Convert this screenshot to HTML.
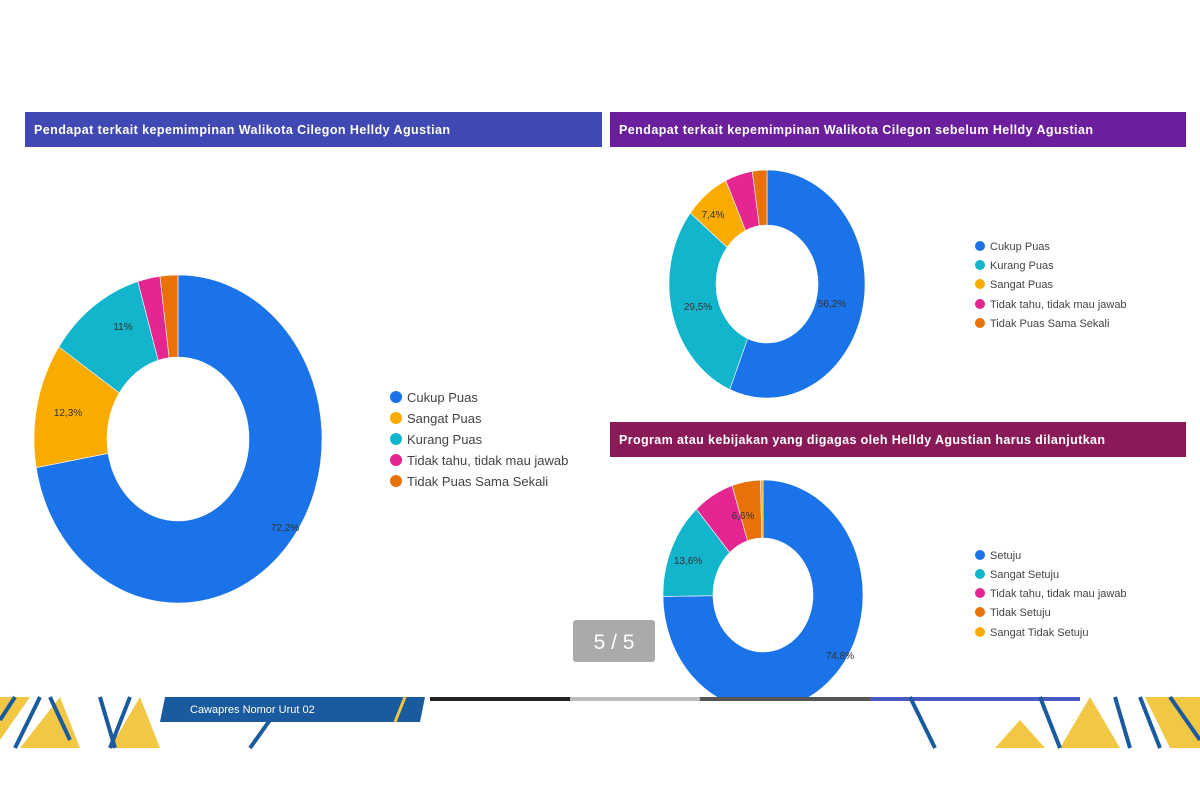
<!DOCTYPE html>
<html><head><meta charset="utf-8"><style>
html,body{margin:0;padding:0;background:#fff;width:1200px;height:800px;overflow:hidden}
svg{display:block}
text{font-family:"Liberation Sans",sans-serif}
</style></head><body>
<svg id="s" width="1200" height="800" viewBox="0 0 1200 800">
<defs><clipPath id="cl"><rect x="0" y="0" width="1200" height="697"/></clipPath></defs>
<rect width="1200" height="800" fill="#fff"/>
<rect x="25" y="112" width="577" height="35" fill="#4049b3"/>
<text x="34" y="134" font-size="12.5" font-weight="bold" fill="#fff" textLength="416">Pendapat terkait kepemimpinan Walikota Cilegon Helldy Agustian</text>
<rect x="610" y="112" width="576" height="35" fill="#6c1f9c"/>
<text x="619" y="134" font-size="12.5" font-weight="bold" fill="#fff" textLength="474">Pendapat terkait kepemimpinan Walikota Cilegon sebelum Helldy Agustian</text>
<rect x="610" y="422" width="576" height="35" fill="#8a1a57"/>
<text x="619" y="444" font-size="12.5" font-weight="bold" fill="#fff" textLength="486">Program atau kebijakan yang digagas oleh Helldy Agustian harus dilanjutkan</text>
<g id="c1"></g><g id="c2"></g><g id="c3" clip-path="url(#cl)"></g>
<g font-size="13" fill="#444">
<circle cx="396" cy="397" r="6" fill="#1a73e8"/><text x="407" y="402">Cukup Puas</text>
<circle cx="396" cy="418" r="6" fill="#f9ab00"/><text x="407" y="423">Sangat Puas</text>
<circle cx="396" cy="439" r="6" fill="#12b5cb"/><text x="407" y="444">Kurang Puas</text>
<circle cx="396" cy="460" r="6" fill="#e52592"/><text x="407" y="465">Tidak tahu, tidak mau jawab</text>
<circle cx="396" cy="481" r="6" fill="#e8710a"/><text x="407" y="486">Tidak Puas Sama Sekali</text>
</g>
<g font-size="11" fill="#444">
<circle cx="980" cy="246" r="5" fill="#1a73e8"/><text x="990" y="250">Cukup Puas</text>
<circle cx="980" cy="265" r="5" fill="#12b5cb"/><text x="990" y="269">Kurang Puas</text>
<circle cx="980" cy="284" r="5" fill="#f9ab00"/><text x="990" y="288">Sangat Puas</text>
<circle cx="980" cy="304" r="5" fill="#e52592"/><text x="990" y="308">Tidak tahu, tidak mau jawab</text>
<circle cx="980" cy="323" r="5" fill="#e8710a"/><text x="990" y="327">Tidak Puas Sama Sekali</text>
<circle cx="980" cy="555" r="5" fill="#1a73e8"/><text x="990" y="559">Setuju</text>
<circle cx="980" cy="574" r="5" fill="#12b5cb"/><text x="990" y="578">Sangat Setuju</text>
<circle cx="980" cy="593" r="5" fill="#e52592"/><text x="990" y="597">Tidak tahu, tidak mau jawab</text>
<circle cx="980" cy="612" r="5" fill="#e8710a"/><text x="990" y="616">Tidak Setuju</text>
<circle cx="980" cy="632" r="5" fill="#f9ab00"/><text x="990" y="636">Sangat Tidak Setuju</text>
</g>
<g font-size="10" fill="#333" text-anchor="middle">
<text x="285" y="531">72,2%</text><text x="68" y="416">12,3%</text><text x="123" y="330">11%</text>
<text x="832" y="307">56,2%</text><text x="698" y="310">29,5%</text><text x="713" y="218">7,4%</text>
<text x="840" y="659">74,8%</text><text x="688" y="564">13,6%</text><text x="743" y="519">6,6%</text>
</g>
<rect x="0" y="697" width="1200" height="51" fill="#fff"/>
<rect x="430" y="697" width="140" height="4" fill="#222"/>
<rect x="570" y="697" width="130" height="4" fill="#bbb"/>
<rect x="700" y="697" width="170" height="4" fill="#555"/>
<rect x="870" y="697" width="210" height="4" fill="#4a5ac0"/>
<g fill="#f2c744">
<polygon points="0,697 30,697 0,740"/><polygon points="20,748 60,697 80,748"/>
<polygon points="110,748 140,697 160,748"/><polygon points="1060,748 1090,697 1120,748"/>
<polygon points="1145,697 1200,697 1200,748 1170,748"/>
<polygon points="995,748 1020,720 1045,748"/>
</g>
<g stroke="#1a5a9e" stroke-width="4" fill="none">
<path d="M15,697 L0,720"/><path d="M40,697 L15,748"/><path d="M50,697 L70,740"/>
<path d="M100,697 L115,748"/><path d="M130,697 L110,748"/><path d="M270,720 L250,748"/>
<path d="M910,697 L935,748"/><path d="M1040,697 L1060,748"/><path d="M1115,697 L1130,748"/>
<path d="M1140,697 L1160,748"/><path d="M1170,697 L1200,740"/>
</g>
<path d="M165,697 L425,697 L420,722 L160,722 Z" fill="#1a5a9e"/>
<path d="M405,697 L395,722" stroke="#f2c744" stroke-width="3"/>
<text x="190" y="713" font-size="11" fill="#fff">Cawapres Nomor Urut 02</text>
<rect x="573" y="620" width="82" height="42" rx="3" fill="#aaaaaa"/>
<text x="614" y="649" font-size="21" fill="#fff" text-anchor="middle">5 / 5</text>
</svg>
<script>
var NS="http://www.w3.org/2000/svg";
function donut(id,cx,cy,rx,ry,irx,iry,data){
 var g=document.getElementById(id),a=0;
 data.forEach(function(d){
  var a0=a*2*Math.PI,a1=(a+d[0]/100)*2*Math.PI;a+=d[0]/100;
  var L=(a1-a0)>Math.PI?1:0;
  function p(rX,rY,t){return [cx+rX*Math.sin(t),cy-rY*Math.cos(t)];}
  var o0=p(rx,ry,a0),o1=p(rx,ry,a1),i1=p(irx,iry,a1),i0=p(irx,iry,a0);
  var path=document.createElementNS(NS,"path");
  path.setAttribute("d","M"+o0+"A"+rx+","+ry+" 0 "+L+" 1 "+o1+"L"+i1+"A"+irx+","+iry+" 0 "+L+" 0 "+i0+"Z");
  path.setAttribute("fill",d[1]);path.setAttribute("stroke","#fff");path.setAttribute("stroke-width","0.6");
  g.appendChild(path);
 });
}
var B="#1a73e8",T="#12b5cb",Y="#f9ab00",P="#e52592",O="#e8710a";
donut("c1",178,439,144,164,71,82,[[72.2,B],[12.3,Y],[11,T],[2.5,P],[2.0,O]]);
donut("c2",767,284,98,114,51,59,[[56.2,B],[29.5,T],[7.4,Y],[4.5,P],[2.4,O]]);
donut("c3",763,595,100,115,50,57,[[74.8,B],[13.6,T],[6.6,P],[4.6,O],[0.4,Y]]);
</script>
</body></html>
